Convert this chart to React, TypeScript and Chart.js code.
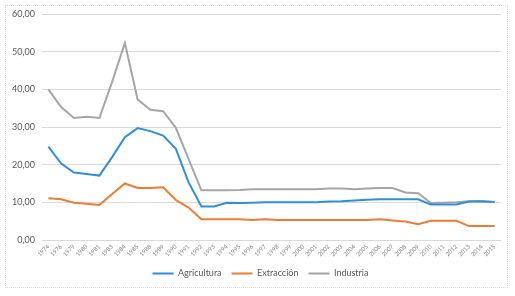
import React, { useEffect, useRef } from "react";
import { Chart, registerables } from "chart.js";

Chart.register(...registerables);

const years = [
  "1974", "1976", "1979", "1980", "1981", "1983", "1984", "1985", "1988", "1989",
  "1990", "1991", "1992", "1993", "1994", "1995", "1996", "1997", "1998", "1999",
  "2000", "2001", "2002", "2003", "2004", "2005", "2006", "2007", "2008", "2009",
  "2010", "2011", "2012", "2013", "2014", "2015",
];

const agricultura = [
  24.8, 20.3, 17.9, 17.5, 17.1, 22.0, 27.3, 29.7, 28.9, 27.7,
  24.2, 15.3, 8.9, 8.9, 9.9, 9.8, 9.9, 10.0, 10.0, 10.0,
  10.0, 10.0, 10.2, 10.3, 10.5, 10.7, 10.8, 10.8, 10.8, 10.8,
  9.4, 9.4, 9.4, 10.2, 10.3, 10.1,
];

const extraccion = [
  11.1, 10.8, 9.9, 9.6, 9.3, 12.2, 15.0, 13.8, 13.8, 14.0,
  10.6, 8.6, 5.5, 5.5, 5.5, 5.5, 5.3, 5.5, 5.3, 5.3,
  5.3, 5.3, 5.3, 5.3, 5.3, 5.3, 5.5, 5.2, 4.9, 4.2,
  5.1, 5.1, 5.1, 3.7, 3.7, 3.7,
];

const industria = [
  40.0, 35.3, 32.4, 32.7, 32.4, 42.0, 52.3, 37.3, 34.6, 34.2,
  29.8, 21.5, 13.2, 13.2, 13.2, 13.3, 13.5, 13.5, 13.5, 13.5,
  13.5, 13.5, 13.7, 13.7, 13.5, 13.7, 13.8, 13.8, 12.6, 12.4,
  9.8, 9.9, 10.0, 10.3, 10.3, 10.0,
];

const seriesNames = ["Agricultura", "Extracción", "Industria"];
const seriesColors = ["#2f8fdd", "#ed7d31", "#a5a5a5"];

const yMin = 0;
const yMax = 60;
const yStep = 10;

export default function App() {
  const ref = useRef<HTMLCanvasElement | null>(null);

  useEffect(() => {
    if (!ref.current) return;
    const font = "Lato, 'Open Sans', sans-serif";
    const data = [agricultura, extraccion, industria];
    const shiftLegend = {
      id: "shiftLegend",
      afterLayout(c: any) {
        const l = c.legend;
        if (l) {
          l.left += 10;
          l.right += 10;
        }
      },
    };
    const chart = new Chart(ref.current, {
      type: "line",
      data: {
        labels: years,
        datasets: seriesNames.map((name, i) => ({
          label: name,
          data: data[i],
          borderColor: seriesColors[i],
          backgroundColor: seriesColors[i],
          borderWidth: 2,
          pointRadius: 0,
          pointStyle: "line",
          tension: 0,
          fill: false,
        })),
      },
      options: {
        responsive: false,
        animation: false,
        layout: { padding: { top: 14, bottom: 8, left: 0, right: 14 } },
        plugins: {
          tooltip: { enabled: false },
          legend: {
            position: "bottom",
            labels: {
              usePointStyle: true,
              pointStyleWidth: 21,
              boxHeight: 9,
              padding: 10,
              color: "#595959",
              font: { family: font, size: 9 },
            },
          },
        },
        scales: {
          x: {
            offset: true,
            grid: { display: false, drawTicks: false },
            border: { display: false },
            ticks: {
              autoSkip: false,
              maxRotation: 45,
              minRotation: 45,
              padding: 3,
              color: "#7f7f7f",
              font: { family: font, size: 6 },
            },
            afterFit: (s: any) => {
              s.height = 19;
            },
          },
          y: {
            min: yMin,
            max: yMax,
            grid: { color: "#d9d9d9", drawTicks: false, lineWidth: 1 },
            border: { display: false },
            ticks: {
              stepSize: yStep,
              padding: 7,
              color: "#595959",
              font: { family: font, size: 9 },
              callback: (v: any) => Number(v).toFixed(2).replace(".", ","),
            },
            afterFit: (s: any) => {
              s.width = 42;
            },
          },
        },
      },
      plugins: [shiftLegend],
    });
    return () => chart.destroy();
  }, []);

  return (
    <div style={{ position: "absolute", left: 0, top: 0, width: 515, height: 296, background: "#fff" }}>
      <div
        style={{
          position: "absolute",
          left: 5,
          top: 5,
          width: 501,
          height: 281,
          border: "1px dotted #d9d9d9",
        }}
      />
      <canvas ref={ref} width={515} height={296} style={{ position: "absolute", left: 0, top: 0 }} />
    </div>
  );
}
